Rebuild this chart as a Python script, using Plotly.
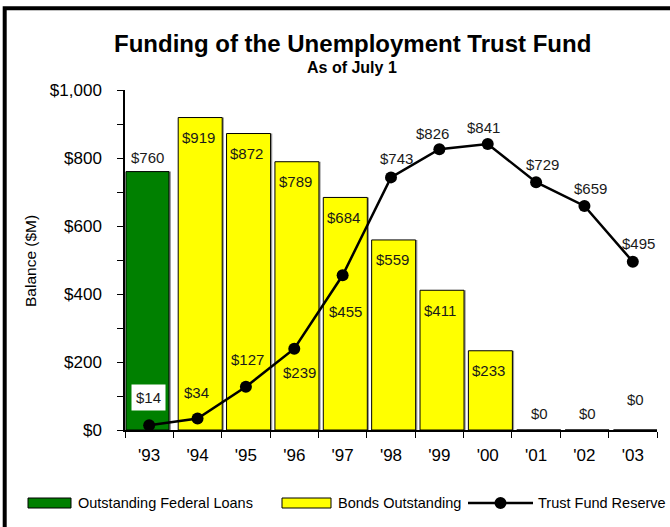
import plotly.graph_objects as go

# ---- data -------------------------------------------------------------
years = ["'93", "'94", "'95", "'96", "'97", "'98", "'99", "'00", "'01", "'02", "'03"]
federal_loans = [760, None, None, None, None, None, None, None, None, None, None]
bonds_outstanding = [None, 919, 872, 789, 684, 559, 411, 233, 0, 0, 0]
trust_fund_reserve = [14, 34, 127, 239, 455, 743, 826, 841, 729, 659, 495]

y_ticks = [0, 200, 400, 600, 800, 1000]
y_tick_text = ["$0", "$200", "$400", "$600", "$800", "$1,000"]

# ---- label placement (pixel nudges) -------------------------------------
reserve_label_dx = [-1, -1, 2, 5, 3, 5, -7, -4, 6, 6, 6]
reserve_label_dy = [28, 26, 27, -24, -36, 19, 16, 17, 18, 17, 18]
bond_zero_dy = [17, 17, 31]

# ---- geometry helpers -----------------------------------------------------
W, H = 670, 527
L, R, T, B = 125, 657, 90, 430


def px_x(p):
    return (p - L) / (R - L)


def px_y(p):
    return (B - p) / (B - T)


FONT = "Liberation Sans, Arial, sans-serif"
GREEN = "#008000"
YELLOW = "#FFFF00"

fig = go.Figure()

# bar shadows (thin grey strip on the right-hand side of each bar)
fig.add_trace(go.Bar(x=years, y=federal_loans, width=0.89, offset=-0.44,
                     marker=dict(color="#999999", line=dict(width=0)),
                     showlegend=False, hoverinfo="skip"))
fig.add_trace(go.Bar(x=years, y=bonds_outstanding, width=0.91, offset=-0.365,
                     marker=dict(color="#999999", line=dict(width=0)),
                     showlegend=False, hoverinfo="skip"))

fig.add_trace(go.Bar(name="Outstanding Federal Loans", x=years, y=federal_loans,
                     width=0.89, offset=-0.48,
                     marker=dict(color=GREEN, line=dict(color="#000000", width=1)),
                     showlegend=False))
fig.add_trace(go.Bar(name="Bonds Outstanding", x=years, y=bonds_outstanding,
                     width=0.91, offset=-0.40,
                     marker=dict(color=YELLOW, line=dict(color="#000000", width=1)),
                     showlegend=False))
fig.add_trace(go.Scatter(name="Trust Fund Reserve", x=years, y=trust_fund_reserve,
                         mode="lines+markers",
                         line=dict(color="#000000", width=2.5),
                         marker=dict(color="#000000", size=12),
                         showlegend=False))

annotations = []
label_font = dict(family=FONT, size=15, color="#1a1a1a")


def data_label(x, v, dx, dy, **extra):
    a = dict(x=x, y=v, xref="x", yref="y", text=f"${v:,}", showarrow=False,
             xshift=dx, yshift=dy, xanchor="center", yanchor="middle", font=label_font)
    a.update(extra)
    return a


# value labels for the federal loan bar (above the bar)
for yr, v in zip(years, federal_loans):
    if v is not None:
        annotations.append(data_label(yr, v, -2, 14))

# value labels for the bond bars (inside, near the top)
zero_i = 0
for yr, v in zip(years, bonds_outstanding):
    if v is None:
        continue
    if v > 0:
        annotations.append(data_label(yr, v, 1, -20))
    else:
        annotations.append(data_label(yr, v, 3, bond_zero_dy[zero_i]))
        zero_i += 1

# value labels for the reserve line
for i, (yr, v) in enumerate(zip(years, trust_fund_reserve)):
    extra = dict(bgcolor="#FFFFFF", borderpad=4) if i == 0 else {}
    annotations.append(data_label(yr, v, reserve_label_dx[i], reserve_label_dy[i], **extra))


def paper_text(px, py, text, size, bold=False, xanchor="center", angle=0):
    return dict(x=px_x(px), y=px_y(py), xref="paper", yref="paper",
                text=f"<b>{text}</b>" if bold else text, showarrow=False,
                xanchor=xanchor, yanchor="middle", textangle=angle,
                font=dict(family=FONT, size=size, color="#000000"))


# titles
annotations.append(paper_text(352, 43, "Funding of the Unemployment Trust Fund", 24, bold=True))
annotations.append(paper_text(352, 67, "As of July 1", 16, bold=True))
annotations.append(paper_text(30, 261, "Balance ($M)", 15.5, angle=-90))

# legend drawn by hand so the swatches get their wide proportions
leg_y = 503
shapes = []
shapes.append(dict(type="rect", xref="paper", yref="paper",
                   x0=px_x(28), x1=px_x(71), y0=px_y(498), y1=px_y(508),
                   fillcolor=GREEN, line=dict(color="#000000", width=1)))
annotations.append(paper_text(76, leg_y, "Outstanding Federal Loans", 14.5, xanchor="left"))
shapes.append(dict(type="rect", xref="paper", yref="paper",
                   x0=px_x(282), x1=px_x(331), y0=px_y(498), y1=px_y(508),
                   fillcolor=YELLOW, line=dict(color="#000000", width=1)))
annotations.append(paper_text(336, leg_y, "Bonds Outstanding", 14.5, xanchor="left"))
shapes.append(dict(type="line", xref="paper", yref="paper",
                   x0=px_x(468), x1=px_x(533), y0=px_y(leg_y), y1=px_y(leg_y),
                   line=dict(color="#000000", width=2.5)))
shapes.append(dict(type="circle", xref="paper", yref="paper",
                   x0=px_x(494.5), x1=px_x(506.5), y0=px_y(leg_y + 6), y1=px_y(leg_y - 6),
                   fillcolor="#000000", line=dict(color="#000000", width=0)))
annotations.append(paper_text(536, leg_y, "Trust Fund Reserve", 14.5, xanchor="left"))

# outer frame (runs off the right and bottom edges)
shapes.append(dict(type="rect", xref="paper", yref="paper",
                   x0=px_x(4.7), x1=px_x(700), y0=px_y(560), y1=px_y(8.3),
                   line=dict(color="#000000", width=4), fillcolor="rgba(0,0,0,0)"))

fig.update_layout(
    width=W, height=H,
    margin=dict(l=L, r=W - R, t=T, b=H - B),
    paper_bgcolor="#FFFFFF", plot_bgcolor="#FFFFFF",
    barmode="overlay",
    showlegend=False,
    font=dict(family=FONT, color="#000000"),
    annotations=annotations,
    shapes=shapes,
    xaxis=dict(type="category", tickson="boundaries", ticks="outside", ticklen=6,
               tickcolor="#000000", showline=True, linecolor="#000000", linewidth=1.5,
               showgrid=False, tickfont=dict(family=FONT, size=17, color="#000000"),
               ticklabelstandoff=9,
               range=[-0.5, len(years) - 0.5], fixedrange=True),
    yaxis=dict(range=[0, 1000], tickvals=y_ticks, ticktext=y_tick_text,
               ticks="outside", ticklen=6, tickcolor="#000000", showline=True,
               linecolor="#000000", linewidth=1.5, showgrid=False, zeroline=False,
               minor=dict(dtick=100, ticks="outside", ticklen=6, tickcolor="#000000"),
               ticklabelstandoff=12,
               tickfont=dict(family=FONT, size=17, color="#000000"), fixedrange=True),
)

fig.write_html("out.html")
